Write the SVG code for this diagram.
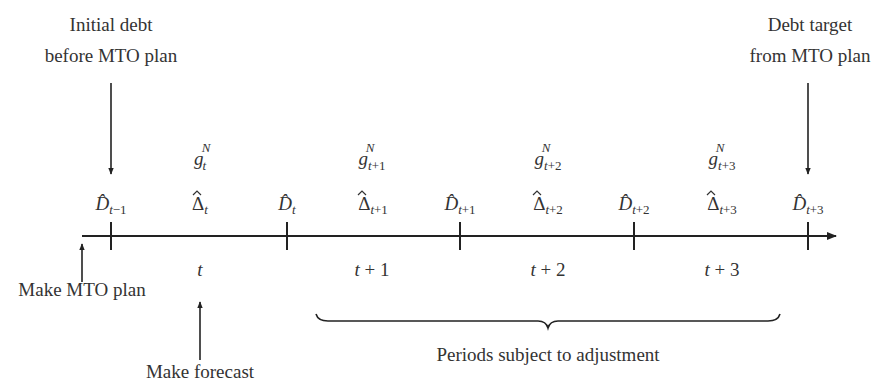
<svg xmlns="http://www.w3.org/2000/svg" width="875" height="381" viewBox="0 0 875 381" font-family="'Liberation Serif','DejaVu Serif','Times New Roman','Nimbus Roman','Noto Serif',serif">
<style>
.t{font-size:19px;fill:#333;text-anchor:middle}
.m{font-size:19px;fill:#333;font-style:italic;text-anchor:middle}
.u{font-style:normal}
.s{font-size:13px}
.ln{stroke:#222;stroke-width:2;fill:none}
.ar{stroke:#222;stroke-width:1.6;fill:none}
.hat{stroke:#333;stroke-width:1.2;fill:none}
</style>
<defs>
<marker id="ah" viewBox="0 0 10 10" refX="9" refY="5" markerWidth="7" markerHeight="7" orient="auto" markerUnits="userSpaceOnUse">
<path d="M0,1 L10,5 L0,9 z" fill="#222"/>
</marker>
<marker id="ah2" viewBox="0 0 10 10" refX="9" refY="5" markerWidth="10" markerHeight="10" orient="auto" markerUnits="userSpaceOnUse">
<path d="M0,1 L10,5 L0,9 z" fill="#222"/>
</marker>
</defs>

<g id="connectors">
<line class="ln" x1="82" y1="236" x2="836" y2="236" marker-end="url(#ah2)"/>
<line class="ln" x1="111" y1="222" x2="111" y2="250"/>
<line class="ln" x1="287" y1="222" x2="287" y2="250"/>
<line class="ln" x1="460" y1="222" x2="460" y2="250"/>
<line class="ln" x1="634" y1="222" x2="634" y2="250"/>
<line class="ln" x1="808" y1="222" x2="808" y2="250"/>
<line class="ar" x1="111" y1="83" x2="111" y2="174" marker-end="url(#ah)"/>
<line class="ar" x1="808" y1="83" x2="808" y2="174" marker-end="url(#ah)"/>
<line class="ar" x1="82" y1="282" x2="82" y2="244" marker-end="url(#ah)"/>
<line class="ar" x1="200" y1="360" x2="200" y2="302" marker-end="url(#ah)"/>
<path class="ar" d="M316,314 Q318,321 328,321 L538,321 Q546,321 548,328 Q550,321 558,321 L768,321 Q778,321 780,314"/>
</g>

<g id="initial-debt"><text class="t" x="111" y="31">Initial debt</text><text class="t" x="111" y="62">before MTO plan</text></g>
<g id="debt-target"><text class="t" x="810" y="31">Debt target</text><text class="t" x="810" y="62">from MTO plan</text></g>
<g id="make-mto"><text class="t" x="82" y="296">Make MTO plan</text></g>
<g id="make-forecast"><text class="t" x="200" y="378">Make forecast</text></g>
<g id="periods"><text class="t" x="548" y="361">Periods subject to adjustment</text></g>

<g id="g-labels">
<text class="m" x="200" y="165">g<tspan class="s" dx="-1" dy="5">t</tspan></text>
<text class="m s" x="206" y="152">N</text>
<text class="m" x="372" y="165">g<tspan class="s" dy="5">t</tspan><tspan class="s u">+1</tspan></text>
<text class="m s" x="370" y="152">N</text>
<text class="m" x="548" y="165">g<tspan class="s" dy="5">t</tspan><tspan class="s u">+2</tspan></text>
<text class="m s" x="546" y="152">N</text>
<text class="m" x="722" y="165">g<tspan class="s" dy="5">t</tspan><tspan class="s u">+3</tspan></text>
<text class="m s" x="720" y="152">N</text>
</g>

<g id="d-labels">
<text class="m" x="111" y="210">D̂<tspan class="s" dy="4">t</tspan><tspan class="s u">−1</tspan></text>
<text class="m" x="200" y="210"><tspan class="u">Δ</tspan><tspan class="s" dy="4">t</tspan></text>
<path class="hat" d="M193,195 L197,191 L201,195"/>
<text class="m" x="287" y="210">D̂<tspan class="s" dy="4">t</tspan></text>
<text class="m" x="373" y="210"><tspan class="u">Δ</tspan><tspan class="s" dy="4">t</tspan><tspan class="s u">+1</tspan></text>
<path class="hat" d="M358,195 L362,191 L366,195"/>
<text class="m" x="460" y="210">D̂<tspan class="s" dy="4">t</tspan><tspan class="s u">+1</tspan></text>
<text class="m" x="548" y="210"><tspan class="u">Δ</tspan><tspan class="s" dy="4">t</tspan><tspan class="s u">+2</tspan></text>
<path class="hat" d="M533,195 L537,191 L541,195"/>
<text class="m" x="634" y="210">D̂<tspan class="s" dy="4">t</tspan><tspan class="s u">+2</tspan></text>
<text class="m" x="722" y="210"><tspan class="u">Δ</tspan><tspan class="s" dy="4">t</tspan><tspan class="s u">+3</tspan></text>
<path class="hat" d="M707,195 L711,191 L715,195"/>
<text class="m" x="808" y="210">D̂<tspan class="s" dy="4">t</tspan><tspan class="s u">+3</tspan></text>
</g>

<g id="t-labels">
<text class="m" x="200" y="276">t</text>
<text class="m" x="372" y="276">t <tspan class="u">+ 1</tspan></text>
<text class="m" x="548" y="276">t <tspan class="u">+ 2</tspan></text>
<text class="m" x="722" y="276">t <tspan class="u">+ 3</tspan></text>
</g>
</svg>
